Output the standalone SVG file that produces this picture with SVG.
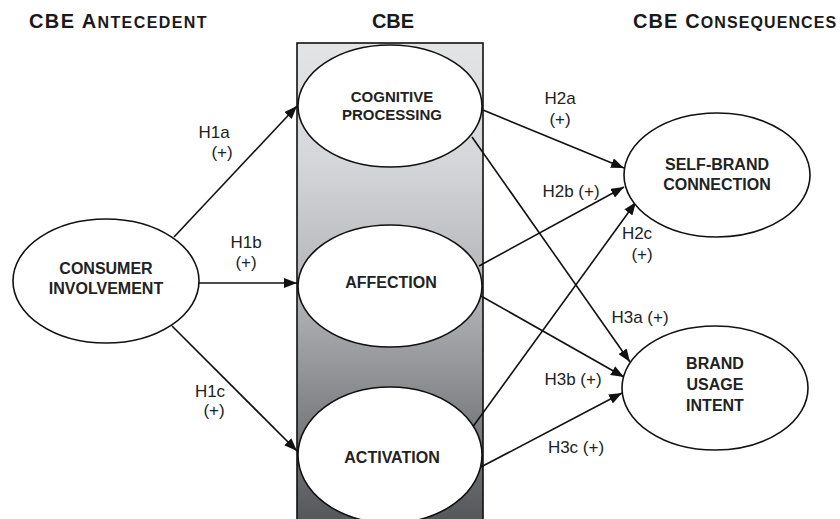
<svg xmlns="http://www.w3.org/2000/svg" width="840" height="519" viewBox="0 0 840 519">
  <style>
    .hdr { font-family: "Liberation Sans", Arial, sans-serif; font-weight: bold; fill: #1a1a1a; font-size: 20px; }
    .sc { font-size: 16px; }
    .node ellipse { fill: #ffffff; stroke: #111111; stroke-width: 1.6; }
    .nt { font-family: "Liberation Sans", Arial, sans-serif; font-weight: bold; font-size: 16px; fill: #222222; text-anchor: middle; }
    .lbl { font-family: "Liberation Sans", Arial, sans-serif; font-size: 17px; fill: #222222; text-anchor: middle; }
    .conn line { stroke: #111111; stroke-width: 1.6; marker-end: url(#arr); }
  </style>
  <defs>
    <linearGradient id="cbeGrad" x1="0" y1="43" x2="0" y2="519" gradientUnits="userSpaceOnUse">
      <stop offset="0" stop-color="#e3e4e6"/>
      <stop offset="0.25" stop-color="#d4d6d9"/>
      <stop offset="0.55" stop-color="#aeb0b3"/>
      <stop offset="0.8" stop-color="#7d7e81"/>
      <stop offset="1" stop-color="#56575a"/>
    </linearGradient>
    <marker id="arr" markerUnits="userSpaceOnUse" markerWidth="14" markerHeight="10" refX="13" refY="5" orient="auto">
      <path d="M0,0 L13,5 L0,10 z" fill="#111111"/>
    </marker>
  </defs>

  <g id="headers">
    <text class="hdr" x="29" y="28" letter-spacing="1.4">CBE A<tspan class="sc">NTECEDENT</tspan></text>
    <text class="hdr" x="393" y="28" text-anchor="middle">CBE</text>
    <text class="hdr" x="633" y="28" letter-spacing="1.1">CBE C<tspan class="sc">ONSEQUENCES</tspan></text>
  </g>

  <g id="cbe-column">
    <rect x="297" y="43" width="186" height="490" fill="url(#cbeGrad)" stroke="#111111" stroke-width="1.6"/>
  </g>

  <g class="conn" id="connectors">
    <line x1="174" y1="237" x2="297" y2="106"/>
    <line x1="199" y1="283" x2="297" y2="283"/>
    <line x1="172" y1="326" x2="297" y2="451"/>
    <line x1="483" y1="110" x2="624" y2="168"/>
    <line x1="479" y1="266" x2="624" y2="187"/>
    <line x1="472" y1="428" x2="636" y2="202"/>
    <line x1="472" y1="137" x2="630" y2="362"/>
    <line x1="481" y1="296" x2="624" y2="377"/>
    <line x1="479" y1="468" x2="622" y2="393"/>
  </g>

  <g class="node" id="consumer-involvement">
    <ellipse cx="106" cy="281" rx="93" ry="62"/>
    <text class="nt" x="106" y="274">CONSUMER</text>
    <text class="nt" x="106" y="294">INVOLVEMENT</text>
  </g>

  <g class="node" id="cognitive-processing">
    <ellipse cx="390" cy="106" rx="92" ry="61"/>
    <text class="nt" x="392" y="102" style="font-size:15px">COGNITIVE</text>
    <text class="nt" x="392" y="120" style="font-size:15px">PROCESSING</text>
  </g>

  <g class="node" id="affection">
    <ellipse cx="390" cy="286" rx="92" ry="61"/>
    <text class="nt" x="391" y="288">AFFECTION</text>
  </g>

  <g class="node" id="activation">
    <ellipse cx="390" cy="455" rx="92" ry="68"/>
    <text class="nt" x="392" y="463">ACTIVATION</text>
  </g>

  <g class="node" id="self-brand-connection">
    <ellipse cx="717" cy="175" rx="93" ry="62"/>
    <text class="nt" x="717" y="170">SELF-BRAND</text>
    <text class="nt" x="717" y="190">CONNECTION</text>
  </g>

  <g class="node" id="brand-usage-intent">
    <ellipse cx="715" cy="388" rx="93" ry="62"/>
    <text class="nt" x="715" y="369">BRAND</text>
    <text class="nt" x="715" y="390">USAGE</text>
    <text class="nt" x="715" y="411">INTENT</text>
  </g>

  <g id="labels">
    <text class="lbl" x="214" y="138">H1a</text>
    <text class="lbl" x="222" y="158">(+)</text>
    <text class="lbl" x="246" y="248">H1b</text>
    <text class="lbl" x="246" y="268">(+)</text>
    <text class="lbl" x="210" y="397">H1c</text>
    <text class="lbl" x="214" y="416">(+)</text>
    <text class="lbl" x="560" y="104">H2a</text>
    <text class="lbl" x="560" y="125">(+)</text>
    <text class="lbl" x="571" y="197">H2b (+)</text>
    <text class="lbl" x="637" y="239">H2c</text>
    <text class="lbl" x="642" y="260">(+)</text>
    <text class="lbl" x="640" y="323">H3a (+)</text>
    <text class="lbl" x="573" y="385">H3b (+)</text>
    <text class="lbl" x="576" y="453">H3c (+)</text>
  </g>
</svg>
